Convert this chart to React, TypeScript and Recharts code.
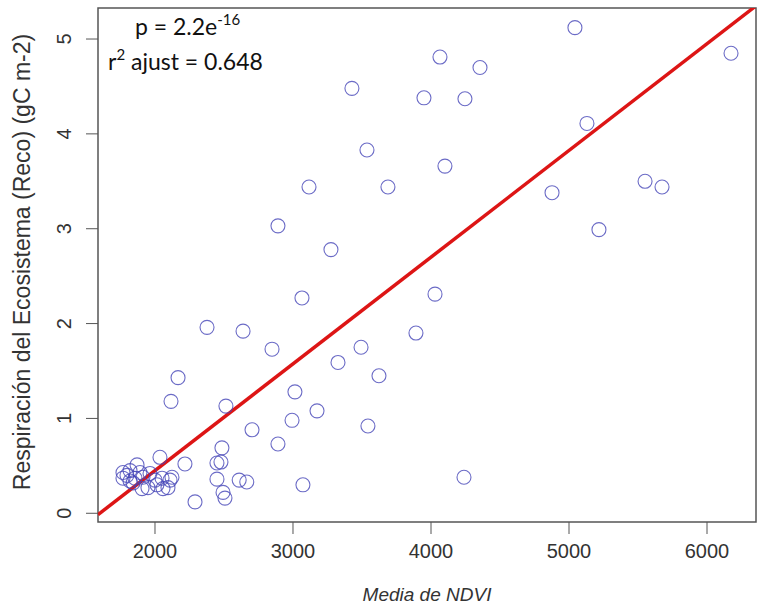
import React from 'react';
import {
  ScatterChart,
  Scatter,
  XAxis,
  YAxis,
  ReferenceLine,
  ReferenceArea,
  Customized,
} from 'recharts';

// Mean NDVI per sample (x) and ecosystem respiration Reco in gC m-2 (y)
const ndviMedia = [
  5043, 6174, 4065, 4355, 3427, 3949, 4246, 5130, 3536, 4101,
  3116, 3688, 4877, 5551, 5674, 5217, 2891, 3275, 3065, 4029,
  3891, 2377, 2638, 2848, 3493, 3326, 2167, 3623, 2116, 3014,
  2514, 3174, 2993, 2703, 3543, 2891, 2485, 2217, 2036, 3072,
  4239, 2290, 2449, 2478, 2449, 2493, 2507, 2610, 2665,
  1768, 1819, 1870, 1768, 1819, 1913, 1964, 2000, 2051, 2094,
  2123, 1906, 1949, 1841, 2058, 2109, 2014, 1797, 1891, 1855,
];
const reco = [
  5.12, 4.85, 4.81, 4.70, 4.48, 4.38, 4.37, 4.11, 3.83, 3.66,
  3.44, 3.44, 3.38, 3.50, 3.44, 2.99, 3.03, 2.78, 2.27, 2.31,
  1.90, 1.96, 1.92, 1.73, 1.75, 1.59, 1.43, 1.45, 1.18, 1.28,
  1.13, 1.08, 0.98, 0.88, 0.92, 0.73, 0.69, 0.52, 0.59, 0.30,
  0.38, 0.12, 0.53, 0.54, 0.36, 0.22, 0.16, 0.35, 0.33,
  0.43, 0.45, 0.51, 0.37, 0.34, 0.38, 0.42, 0.35, 0.37, 0.27,
  0.38, 0.26, 0.27, 0.32, 0.26, 0.35, 0.30, 0.40, 0.43, 0.37,
];

const xTicks = [2000, 3000, 4000, 5000, 6000];
const yTicks = [0, 1, 2, 3, 4, 5];
const xDomain: [number, number] = [1587, 6355];
const yDomain: [number, number] = [-0.092, 5.327];

// Linear fit Reco ~ NDVI
const fitIntercept = -1.8;
const fitSlope = 0.001125;

const xTitle = 'Media de NDVI';
const yTitle = 'Respiración del Ecosistema (Reco) (gC m-2)';
const pLabel = 'p = 2.2e';
const pExponent = '-16';
const r2Prefix = 'r';
const r2Exponent = '2';
const r2Rest = ' ajust = 0.648';

const points = ndviMedia.map((x, i) => ({ x, y: reco[i] }));
const fitLine = [
  { x: xDomain[0], y: fitIntercept + fitSlope * xDomain[0] },
  { x: xDomain[1], y: fitIntercept + fitSlope * xDomain[1] },
];

const AXIS_FONT = '"Liberation Sans", Arial, sans-serif';
const NOTE_FONT = 'Lato, "Open Sans", sans-serif';

const OpenCircle = (props: any) => (
  <circle
    cx={props.cx}
    cy={props.cy}
    r={7}
    fill="none"
    stroke="#4646b8"
    strokeOpacity={0.8}
    strokeWidth={1.1}
  />
);

const RotatedYTick = (props: any) => {
  const { x, y, payload } = props;
  return (
    <text
      x={x}
      y={y}
      transform={`rotate(-90 ${x} ${y})`}
      textAnchor="middle"
      dy="0.35em"
      fontFamily={AXIS_FONT}
      fontSize={20}
      fill="#333"
    >
      {payload.value}
    </text>
  );
};

const Titles = () => (
  <g>
    <text
      x={22}
      y={262}
      transform="rotate(-90 22 262)"
      textAnchor="middle"
      dy="0.35em"
      fontFamily={AXIS_FONT}
      fontSize={23}
      fill="#333"
    >
      {yTitle}
    </text>
    <text
      x={427}
      y={594}
      textAnchor="middle"
      dy="0.35em"
      fontFamily={AXIS_FONT}
      fontStyle="italic"
      fontSize={19}
      fill="#333"
    >
      {xTitle}
    </text>
    <text x={135} y={35} fontFamily={NOTE_FONT} fontSize={23} fill="#111">
      {pLabel}
      <tspan dy={-10} fontSize={15}>
        {pExponent}
      </tspan>
    </text>
    <text x={108} y={70} fontFamily={NOTE_FONT} fontSize={23} fill="#111">
      {r2Prefix}
      <tspan dy={-10} fontSize={15}>
        {r2Exponent}
      </tspan>
      <tspan dy={10}>{r2Rest}</tspan>
    </text>
  </g>
);

export default function App() {
  return (
    <div style={{ position: 'absolute', left: 0, top: 0, background: '#fff' }}>
      <ScatterChart
        width={759}
        height={609}
        margin={{ top: 8, right: 3, bottom: 27, left: 38 }}
      >
        <XAxis
          type="number"
          dataKey="x"
          domain={xDomain}
          ticks={xTicks}
          allowDataOverflow
          height={60}
          axisLine={false}
          tickLine={{ stroke: '#555' }}
          tickSize={12}
          tickMargin={10}
          tick={{ fontFamily: AXIS_FONT, fontSize: 20, fill: '#333' }}
        />
        <YAxis
          type="number"
          dataKey="y"
          domain={yDomain}
          ticks={yTicks}
          allowDataOverflow
          width={60}
          axisLine={false}
          tickLine={{ stroke: '#555' }}
          tickSize={12}
          tickMargin={22}
          tick={<RotatedYTick />}
        />
        <ReferenceArea
          x1={xDomain[0]}
          x2={xDomain[1]}
          y1={yDomain[0]}
          y2={yDomain[1]}
          fill="none"
          stroke="#555"
          strokeWidth={1.5}
          ifOverflow="visible"
        />
        <Scatter
          data={points}
          shape={OpenCircle}
          isAnimationActive={false}
        />
        <ReferenceLine
          segment={fitLine}
          stroke="#dd1515"
          strokeWidth={3.5}
          ifOverflow="hidden"
        />
        <Customized component={<Titles />} />
      </ScatterChart>
    </div>
  );
}
